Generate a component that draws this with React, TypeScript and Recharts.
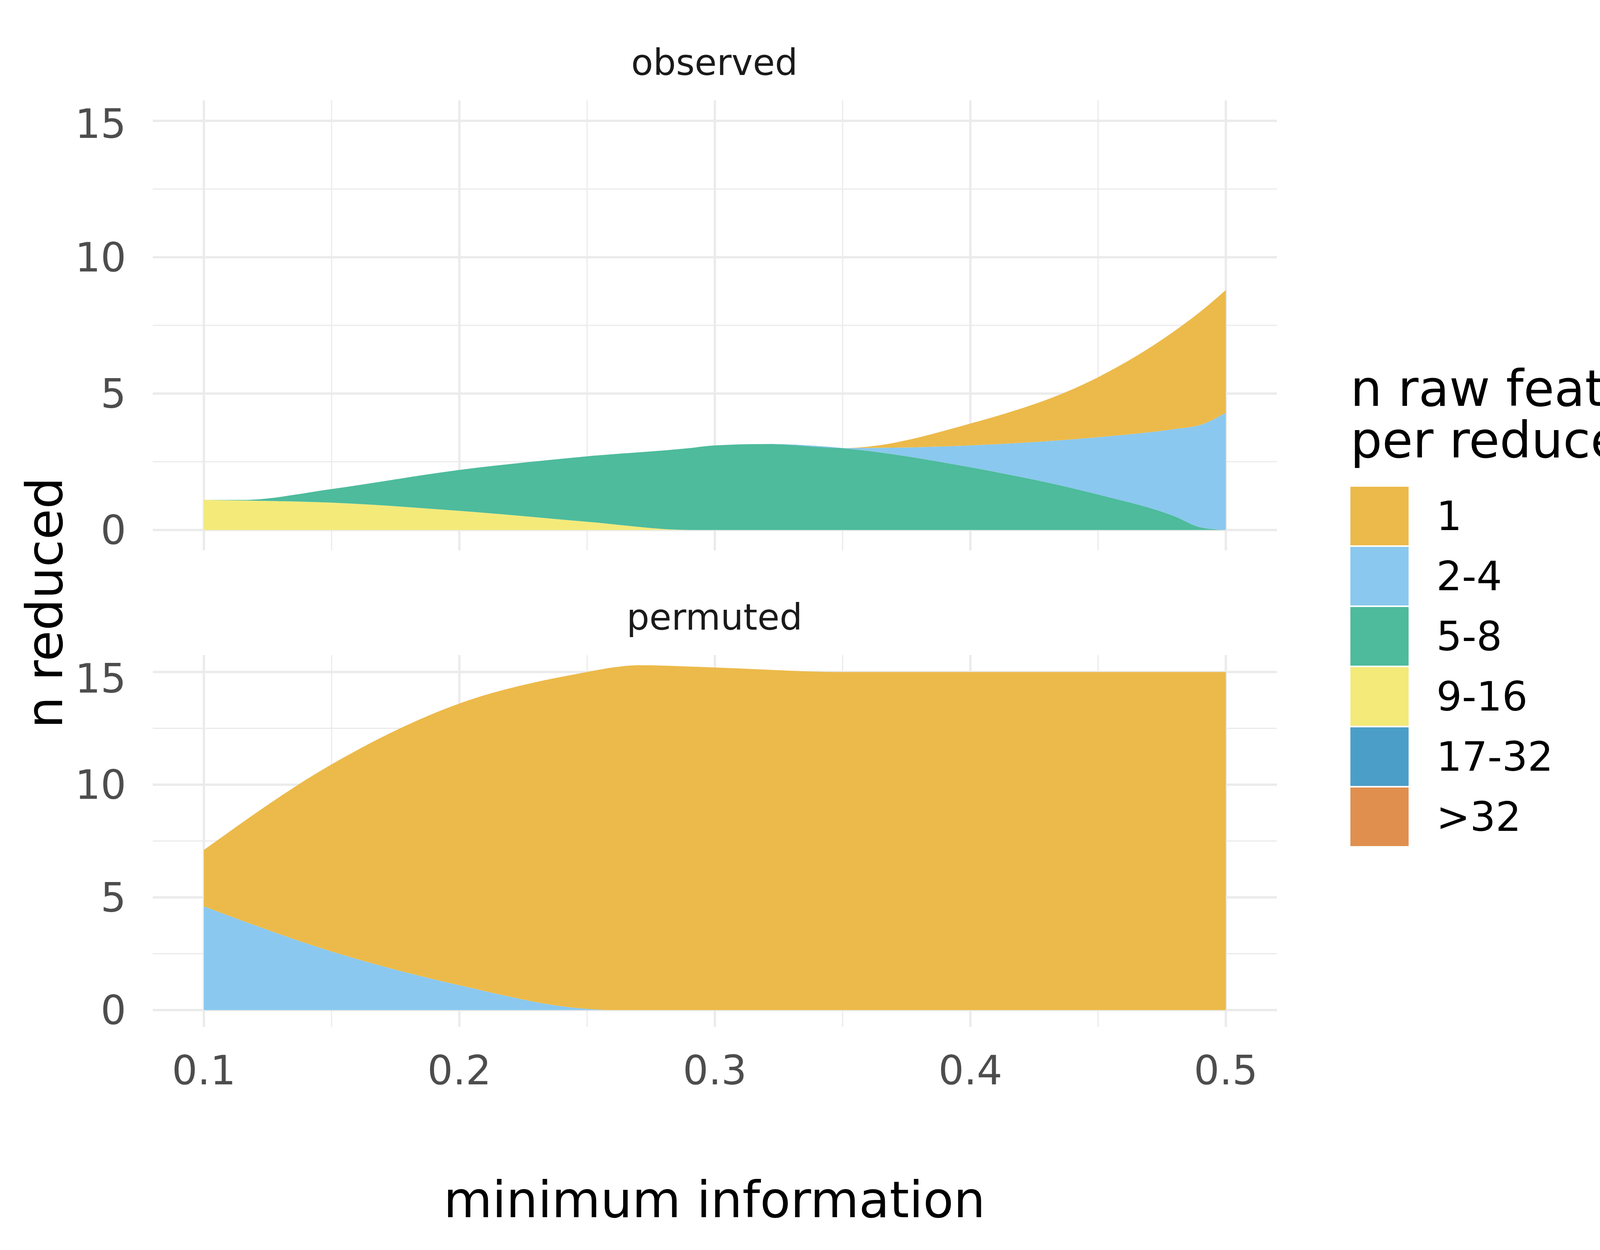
import React from "react";
import { AreaChart, Area, XAxis, YAxis, CartesianGrid } from "recharts";

const xs = [0.1, 0.115, 0.15, 0.2, 0.25, 0.29, 0.3, 0.32, 0.35, 0.4, 0.45, 0.48, 0.49, 0.5];
// observed: cumulative tops
const obsYellowTop = [1.1, 1.08, 1.0, 0.7, 0.3, 0, 0, 0, 0, 0, 0, 0, 0, 0];
const obsGreenTop = [1.1, 1.1, 1.5, 2.2, 2.7, 3.0, 3.1, 3.15, 3.0, 2.3, 1.3, 0.5, 0.1, 0];
const obsBlueTop = [1.1, 1.1, 1.5, 2.2, 2.7, 3.0, 3.1, 3.15, 3.0, 3.1, 3.4, 3.7, 3.85, 4.3];
const obsOrangeTop = [1.1, 1.1, 1.5, 2.2, 2.7, 3.0, 3.1, 3.15, 3.0, 3.9, 5.6, 7.3, 8.0, 8.8];
const permXs = [0.1, 0.15, 0.2, 0.25, 0.26, 0.27, 0.3, 0.35, 0.4, 0.45, 0.5];
const permBlueTop = [4.6, 2.6, 1.1, 0.05, 0, 0, 0, 0, 0, 0, 0];
const permOrangeTop = [7.1, 10.9, 13.6, 15.0, 15.2, 15.3, 15.2, 15.0, 15.0, 15.0, 15.0];

const categories = ["1", "2-4", "5-8", "9-16", "17-32", ">32"];
const colors = ["#ECBA4A", "#8AC8EF", "#4DBB9C", "#F4EA7A", "#4B9EC8", "#E08F4E"];
const xTicks = [0.1, 0.2, 0.3, 0.4, 0.5];
const yTicks = [0, 5, 10, 15];

const obsData = xs.map((x, i) => ({
  x,
  y916: obsYellowTop[i],
  y58: obsGreenTop[i] - obsYellowTop[i],
  y24: obsBlueTop[i] - obsGreenTop[i],
  y1: obsOrangeTop[i] - obsBlueTop[i],
}));
const permData = permXs.map((x, i) => ({
  x,
  y24: permBlueTop[i],
  y1: permOrangeTop[i] - permBlueTop[i],
}));

const font = "DejaVu Sans, sans-serif";
const tickStyle = { fontSize: 103, fill: "#4D4D4D", fontFamily: font };

function Panel({ data, keys, top, showX }: any) {
  const H = showX ? 1400 : 1240;
  return (
    <div style={{ position: "absolute", left: 0, top }}>
      <AreaChart width={3300} height={H} data={data}
        margin={{ left: 100, right: 31, top: 0, bottom: H - 1152 }}>
        <CartesianGrid horizontalValues={[2.5, 7.5, 12.5]} verticalValues={[0.15, 0.25, 0.35, 0.45]} stroke="#EBEBEB" strokeWidth={3} />
        <CartesianGrid horizontalValues={yTicks} verticalValues={xTicks} stroke="#EBEBEB" strokeWidth={6} />
        <XAxis dataKey="x" type="number" domain={[0.08, 0.52]} ticks={xTicks} hide={!showX}
          axisLine={false} tickLine={false} tickMargin={68} tick={tickStyle} height={200}
          tickFormatter={(v: number) => v.toFixed(1)} />
        <YAxis type="number" domain={[-0.75, 15.75]} ticks={yTicks} width={291}
          axisLine={false} tickLine={false} tickMargin={62} tick={tickStyle} allowDataOverflow />
        {keys.map((k: any) => (
          <Area key={k.key} dataKey={k.key} stackId="s" type="monotone" fill={k.color} fillOpacity={1}
            stroke="none" isAnimationActive={false} />
        ))}
      </AreaChart>
    </div>
  );
}

export default function App() {
  const obsKeys = [
    { key: "y916", color: colors[3] },
    { key: "y58", color: colors[2] },
    { key: "y24", color: colors[1] },
    { key: "y1", color: colors[0] },
  ];
  const permKeys = [
    { key: "y24", color: colors[1] },
    { key: "y1", color: colors[0] },
  ];
  return (
    <div style={{ position: "absolute", left: 0, top: 0, width: 4480, height: 3200, background: "#fff", fontFamily: font }}>
      <Panel data={obsData} keys={obsKeys} top={257} showX={false} />
      <Panel data={permData} keys={permKeys} top={1677} showX={true} />
      <svg width={4480} height={3200} style={{ position: "absolute", left: 0, top: 0, pointerEvents: "none" }}>
        <text x={1829} y={160} fontSize={92} textAnchor="middle" dominantBaseline="central" fill="#1A1A1A" fontFamily={font}>observed</text>
        <text x={1829} y={1580} fontSize={92} textAnchor="middle" dominantBaseline="central" fill="#1A1A1A" fontFamily={font}>permuted</text>
        <text x={1829} y={3071} fontSize={128} textAnchor="middle" dominantBaseline="central" fill="#000" fontFamily={font}>minimum information</text>
        <text x={114} y={1543} fontSize={128} textAnchor="middle" dominantBaseline="central" fill="#000" fontFamily={font}
          transform="rotate(-90 114 1543)">n reduced</text>
        <text x={3457} y={994} fontSize={128} dominantBaseline="central" fill="#000" fontFamily={font}>n raw features</text>
        <text x={3457} y={1126} fontSize={128} dominantBaseline="central" fill="#000" fontFamily={font}>per reduced</text>
        {categories.map((c, i) => (
          <g key={c}>
            <rect x={3457} y={1246 + i * 154} width={149} height={150} fill={colors[i]} />
            <text x={3677} y={1321 + i * 154} fontSize={103} dominantBaseline="central" fill="#000" fontFamily={font}>{c}</text>
          </g>
        ))}
      </svg>
    </div>
  );
}
